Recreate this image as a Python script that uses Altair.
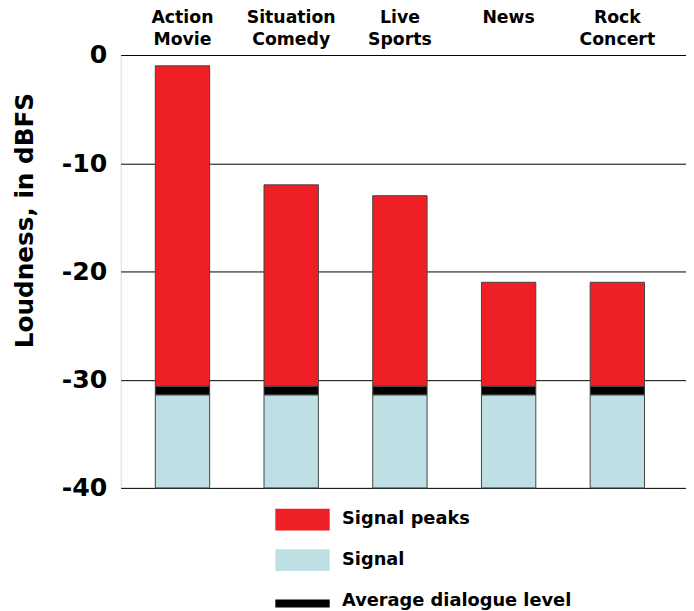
import altair as alt
import pandas as pd

categories = ["Action Movie", "Situation Comedy", "Live Sports", "News", "Rock Concert"]
peak_top = [-1, -12, -13, -21, -21]
dialogue_top = [-30.6, -30.6, -30.6, -30.6, -30.6]
dialogue_bottom = [-31.4, -31.4, -31.4, -31.4, -31.4]
signal_bottom = [-40, -40, -40, -40, -40]
y_ticks = [-40, -30, -20, -10, 0]

series_names = ["Signal peaks", "Signal", "Average dialogue level"]
series_colors = ["#EE1F25", "#BEE0E4", "#000000"]
series_shapes = ["M-1,-0.4H1V0.4H-1Z", "M-1,-0.4H1V0.4H-1Z", "M-1,-0.036H1V0.254H-1Z"]

rows = []
for i, c in enumerate(categories):
    rows.append({"category": c, "series": "Signal", "lo": signal_bottom[i], "hi": dialogue_bottom[i]})
    rows.append({"category": c, "series": "Average dialogue level", "lo": dialogue_bottom[i], "hi": dialogue_top[i]})
    rows.append({"category": c, "series": "Signal peaks", "lo": dialogue_top[i], "hi": peak_top[i]})
df = pd.DataFrame(rows)

FONT = "DejaVu Sans"

legend = alt.Legend(
    title=None, orient="none", legendX=156, legendY=442, padding=0,
    symbolSize=3025, symbolStrokeColor="#444444", symbolStrokeWidth=1,
    symbolOpacity=1, symbolOffset=0,
    labelFont=FONT, labelFontSize=18, labelFontWeight="bold", labelColor="black",
    labelOffset=12, rowPadding=-2, labelLimit=400,
)

color = alt.Color("series:N", scale=alt.Scale(domain=series_names, range=series_colors), legend=legend)

x_enc = alt.X(
    "category:N", sort=categories,
    scale=alt.Scale(paddingInner=0.5, paddingOuter=0.35, align=0.455),
    axis=alt.Axis(
        orient="top", title=None, ticks=False, domain=False,
        labelAngle=0, labelFont=FONT, labelFontSize=17.5, labelFontWeight="bold",
        labelColor="black", labelPadding=33, labelLineHeight=22,
        labelBaseline="alphabetic",
        labelExpr="split(datum.label, ' ')",
    ),
)

y_enc = alt.Y(
    "lo:Q",
    scale=alt.Scale(domain=[-40, 0], nice=False),
    axis=alt.Axis(
        values=y_ticks, title="Loudness, in dBFS", domain=False, ticks=False,
        grid=True, gridColor="black", gridOpacity=1, gridWidth=1,
        labelExpr="'' + datum.value",
        labelFont=FONT, labelFontSize=25.5, labelFontWeight="bold", labelColor="black",
        labelPadding=14, titleFont=FONT, titleFontSize=25, titleFontWeight="bold",
        titleColor="black", titlePadding=24, titleY=167,
    ),
)

bars = alt.Chart(df).mark_bar(stroke="#444444", strokeWidth=1).encode(
    x=x_enc, y=y_enc, y2="hi:Q", color=color,
)

legend_pts = alt.Chart(df).mark_point(filled=True, opacity=0, stroke="#444444", strokeWidth=1).encode(
    color=color,
    shape=alt.Shape("series:N", scale=alt.Scale(domain=series_names, range=series_shapes), legend=legend),
)

chart = alt.layer(bars, legend_pts).properties(
    width=572, height=438,
    autosize=alt.AutoSizeParams(type="none"),
    padding={"left": 114, "top": 44, "right": 0, "bottom": 121},
).configure_view(stroke=None).configure(background="white")

chart.save("out.html", embed_options={"renderer": "svg", "actions": False})
